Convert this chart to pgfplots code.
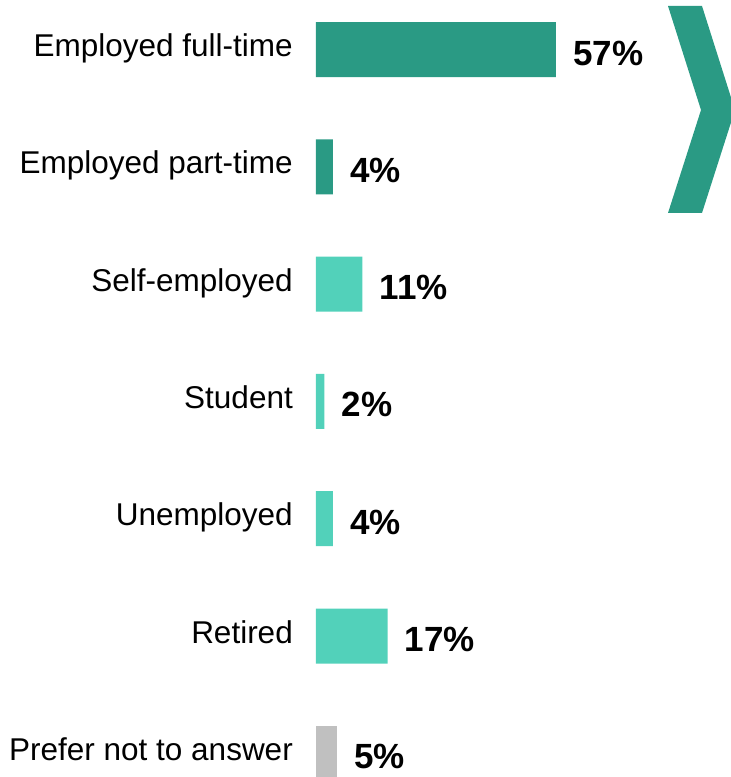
\documentclass[border=0pt]{standalone}
\usepackage{pgfplots}
\pgfplotsset{compat=1.18}
\usepackage{fontspec}
\setmainfont{Liberation Sans}
\definecolor{darkteal}{HTML}{2A9A84}
\definecolor{lightteal}{HTML}{52D1BA}
\definecolor{greybar}{HTML}{C0C0C0}
\begin{document}
\begin{tikzpicture}[x=1pt,y=1pt]
\useasboundingbox (0,0) rectangle (731,777);
\begin{scope}
\clip (0,0) rectangle (731,777);
\fill[darkteal] (668,771) -- (702,771) -- (735,667) -- (702,564) -- (668,564) -- (701,667) -- cycle;
\end{scope}
\begin{axis}[
  at={(316pt,0pt)}, anchor=south west,
  scale only axis, width=415pt, height=777pt,
  xmin=0, xmax=98.57, ymin=-0.422, ymax=6.202,
  enlargelimits=false, y dir=reverse,
  xbar, bar width=55pt, bar shift=0pt,
  axis line style={draw=none}, major tick length=0pt,
  xtick=\empty, ytick={0,...,6},
  yticklabels={Employed full-time, Employed part-time, Self-employed, Student, Unemployed, Retired, Prefer not to answer},
  yticklabel style={font=\fontsize{31.5}{36}\selectfont, anchor=base east, inner sep=0pt, xshift=-23pt, yshift=-7pt},
  point meta=x,
  /pgf/number format/assume math mode=true,
  nodes near coords={\pgfmathprintnumber{\pgfplotspointmeta}\%},
  nodes near coords style={font=\bfseries\fontsize{35}{40}\selectfont, anchor=base west, inner sep=0pt, xshift=17pt, yshift=-15.5pt, text=black},
  clip=false,
]
\addplot[fill=darkteal, draw=none] coordinates {(57,0) (4,1)};
\addplot[fill=lightteal, draw=none] coordinates {(11,2) (2,3) (4,4) (17,5)};
\addplot[fill=greybar, draw=none] coordinates {(5,6)};
\end{axis}
\end{tikzpicture}
\end{document}
